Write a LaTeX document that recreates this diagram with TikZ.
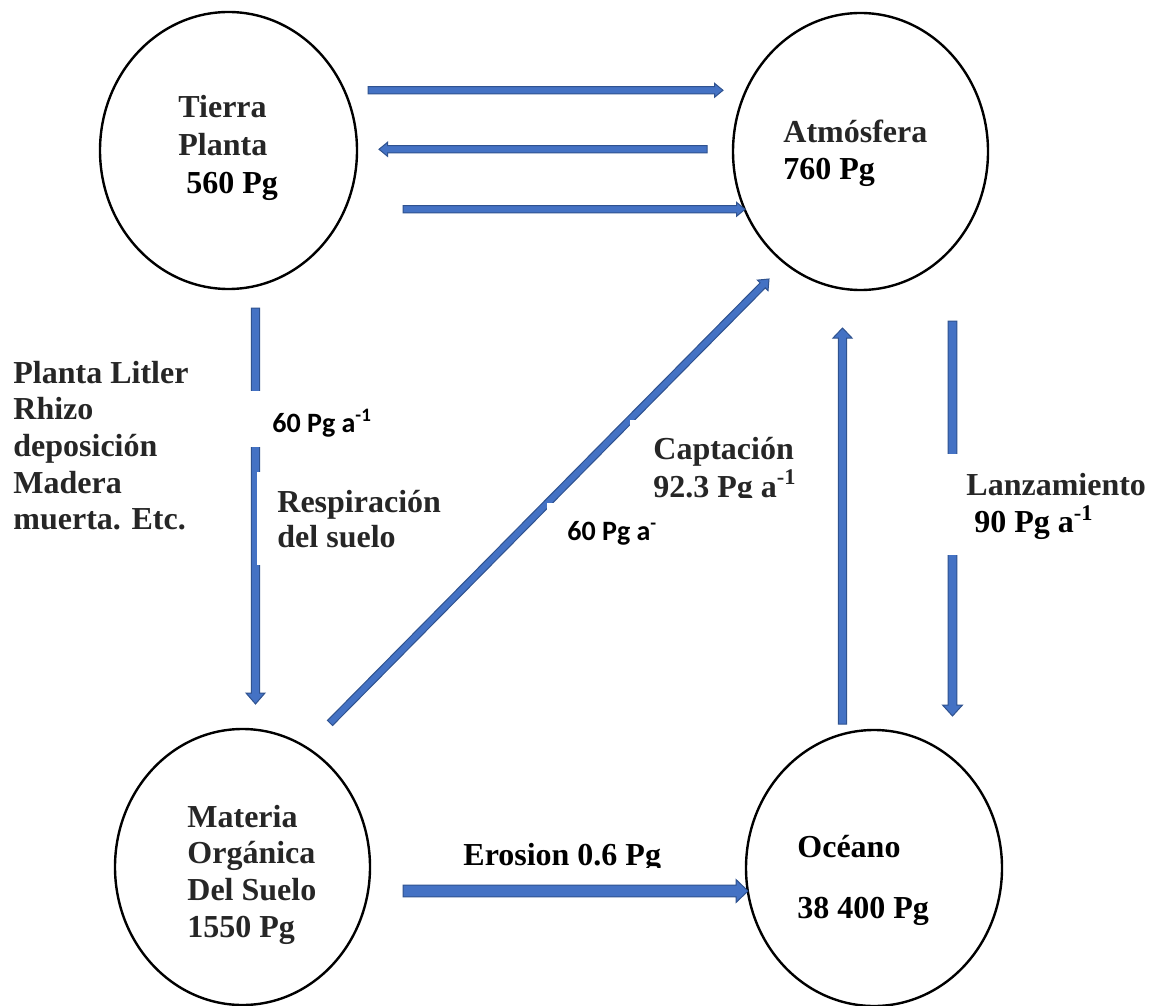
\documentclass[tikz,border=0pt]{standalone}
\usepackage{fontspec}
\setmainfont{Liberation Serif}
\newfontfamily\calib{Carlito}
\usetikzlibrary{calc,shapes.geometric}
\definecolor{afill}{HTML}{4472C4}
\definecolor{aline}{HTML}{2F528F}
\definecolor{txtg}{HTML}{262626}
% block arrow: from, to, half shaft, half head, head length
\newcommand\barrow[5]{%
  \filldraw[arrowbody] let \p1=(#1), \p2=(#2), \n1={atan2(\y2-\y1,\x2-\x1)} in
    ($(#1)+({\n1+90}:#3)$) -- ($(#2)+({\n1+180}:#5)+({\n1+90}:#3)$)
    -- ($(#2)+({\n1+180}:#5)+({\n1+90}:#4)$) -- (#2)
    -- ($(#2)+({\n1+180}:#5)+({\n1-90}:#4)$) -- ($(#2)+({\n1+180}:#5)+({\n1-90}:#3)$)
    -- ($(#1)+({\n1-90}:#3)$) -- cycle;}
\newcommand\supx[1]{\raisebox{0.38em}{\fontsize{9.5}{10}\selectfont #1}}
\begin{document}
\begin{tikzpicture}[x=0.5pt,y=-0.5pt,
  pool/.style={ellipse, draw=black, line width=1.2pt, inner sep=0pt, outer sep=0pt},
  arrowbody/.style={fill=afill, draw=aline, line width=0.5pt, line join=miter},
  txt/.style={anchor=base west, inner sep=0pt, text=txtg, font=\bfseries\fontsize{16}{#1}\selectfont},
  txt/.default=18.35,
  sanslbl/.style={anchor=base west, inner sep=0pt, text=black, font=\calib\bfseries\fontsize{14}{16}\selectfont},
  cutbox/.style={fill=white, draw=none}]
\useasboundingbox[fill=white] (0,0) rectangle (1154,1005);

% pools
\node[pool, minimum width=128.5pt, minimum height=138.5pt] (tierra) at (228.5,150.5) {};
\node[pool, minimum width=127.5pt, minimum height=138.5pt] (atm) at (860.5,151.5) {};
\node[pool, minimum width=127.5pt, minimum height=138pt] (mos) at (242.5,867) {};
\node[pool, minimum width=128pt, minimum height=138pt] (oce) at (874,868) {};

% arrow ends
\coordinate (a1s) at (368,90.3);   \coordinate (a1e) at (723,90.3);
\coordinate (a2s) at (707,149.3);  \coordinate (a2e) at (379,149.3);
\coordinate (a3s) at (403,209.3);  \coordinate (a3e) at (745,209.3);
\coordinate (vls) at (255.5,308);  \coordinate (vle) at (255.5,704);
\coordinate (dgs) at (330,723);    \coordinate (dge) at (769,279);
\coordinate (ups) at (842.5,724);  \coordinate (upe) at (842.5,328);
\coordinate (dns) at (952.5,321);  \coordinate (dne) at (952.5,716);
\coordinate (ers) at (403,891);    \coordinate (ere) at (748,891);

\barrow{a1s}{a1e}{1.8pt}{3.5pt}{4.25pt}
\barrow{a2s}{a2e}{1.8pt}{3.5pt}{4.25pt}
\barrow{a3s}{a3e}{1.8pt}{3.5pt}{4.25pt}
\barrow{vls}{vle}{2.1pt}{4.75pt}{5.5pt}
\barrow{dgs}{dge}{1.8pt}{3.75pt}{4.5pt}
\barrow{ups}{upe}{2.1pt}{4.75pt}{5pt}
\barrow{dns}{dne}{2.2pt}{5pt}{5.5pt}
\barrow{ers}{ere}{2.9pt}{5.75pt}{6pt}

% text box backgrounds covering the arrows
\fill[cutbox] (247,391) rectangle (400,447);
\fill[cutbox] (256.5,472) rectangle (445,565);
\fill[cutbox] (944,454) rectangle (1150,555);
\fill[cutbox] (630,420) rectangle (810,500);
\fill[cutbox] (547,503) rectangle (680,552);

% texts
\node[txt=19] (tTierra) at (178,118) {\begin{tabular}[t]{@{}l@{}}Tierra\\Planta\\\hspace*{4pt}\color{black}560 Pg\end{tabular}};
\node[txt=18.5] (tAtm) at (783,143) {\begin{tabular}[t]{@{}l@{}}Atmósfera\\\color{black}760 Pg\end{tabular}};
\node[txt] (tMos) at (187,827) {\begin{tabular}[t]{@{}l@{}}Materia\\Orgánica\\Del Suelo\\1550 Pg\end{tabular}};
\node[txt, text=black] (tOce) at (797,857) {\begin{tabular}[t]{@{}l@{}}Océano\\[12.15pt]38 400 Pg\end{tabular}};
\node[txt] (tLit) at (13,383) {\begin{tabular}[t]{@{}l@{}}Planta Litler\\Rhizo\\deposición\\Madera\\muerta. Etc.\end{tabular}};
\node[sanslbl] (f60a) at (272,432) {60 Pg a\supx{-1}};
\node[txt=17.5] (tResp) at (277,512) {\begin{tabular}[t]{@{}l@{}}Respiración\\del suelo\end{tabular}};
\begin{scope}
\clip (640,420) rectangle (820,497.5);
\node[txt=18] (tCapt) at (653,459) {\begin{tabular}[t]{@{}l@{}}Captación\\92.3 Pg a\textsuperscript{-1}\end{tabular}};
\end{scope}
\node[sanslbl] (f60b) at (567,540) {60 Pg a\supx{-}};
\node[txt=17.5] (tLanz) at (966,495) {\begin{tabular}[t]{@{}l@{}}Lanzamiento\\\hspace*{4pt}\color{black}90 Pg a\textsuperscript{-1}\end{tabular}};
\begin{scope}
\clip (440,820) rectangle (700,867.5);
\node[txt, text=black] (tEro) at (463,865) {Erosion 0.6 Pg};
\end{scope}
\end{tikzpicture}
\end{document}
